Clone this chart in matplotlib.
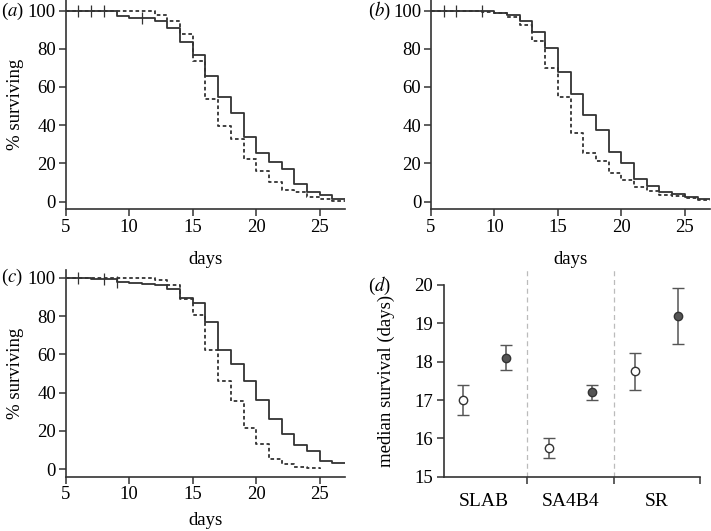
import matplotlib.pyplot as plt
import numpy as np

plt.rcParams['font.family'] = ['Liberation Serif', 'DejaVu Serif']
plt.rcParams['mathtext.fontset'] = 'stix'
plt.rcParams['font.size'] = 13

# days at which the step curves change (interval [d, d+1))
days = np.arange(5, 28)

# panel (a)
surv_a_solid = [100, 100, 100, 100, 97, 96, 96, 94.5, 91, 83.5, 76.5, 65.5,
                54.5, 46.5, 34, 25.5, 20.5, 17, 9, 5, 3.5, 1.5, 1.5]
surv_a_dash = [100, 100, 100, 100, 99.5, 99.5, 99.5, 97.5, 94.5, 87.5, 73.5, 53.5,
               39.5, 33, 22.5, 16, 10, 6, 5, 2.5, 1.5, 0.5, 0.5]
cens_a = [6, 7, 8, 11]

# panel (b)
surv_b_solid = [100, 100, 100, 100, 100, 98.5, 97.5, 94.5, 88.5, 80.5, 68, 56.5,
                45.5, 37.5, 26, 20, 12, 8, 5, 3.8, 2.3, 1.4, 1.4]
surv_b_dash = [100, 100, 100, 100, 99, 98.5, 96.5, 92.5, 84, 70, 54.5, 36,
               25.5, 21, 15, 11.5, 7.5, 5.5, 3.7, 3, 2, 1, 1]
cens_b = [6, 7, 9]

# panel (c)
surv_c_solid = [100, 100, 99.5, 99.5, 98, 97.5, 97, 96, 94, 89.5, 87, 77,
                62, 55, 46, 36, 26, 18.5, 12.5, 9.5, 4, 3, 3]
days_c_dash = np.arange(5, 26)
surv_c_dash = [100, 100, 100, 100, 100, 100, 100, 99, 96, 89, 80.5, 62,
               46, 35.5, 21.5, 13, 5, 2.5, 1, 0.5, 0]
cens_c = [6, 8, 9]

# panel (d)
strains = ['SLAB', 'SA4B4', 'SR']
med_open = [17.0, 15.75, 17.75]
lo_open = [16.6, 15.5, 17.27]
hi_open = [17.4, 16.0, 18.22]
med_fill = [18.1, 17.2, 19.2]
lo_fill = [17.77, 17.0, 18.47]
hi_fill = [18.43, 17.4, 19.93]

line_col = '#333333'
W, H = 711, 531
fig = plt.figure(figsize=(W / 100, H / 100), dpi=100)


def km_panel(rect, solid, dash_x, dash, cens, ylab, ytop, xpad):
    ax = fig.add_axes(rect)
    ax.step(days, solid, where='post', color=line_col, lw=1.3)
    ax.step(dash_x, dash, where='post', color=line_col, lw=1.3,
            linestyle=(0, (2, 1.5)))
    # censoring marks
    cy = [solid[list(days).index(c)] for c in cens]
    ax.plot(cens, cy, linestyle='none', marker='|', markersize=8,
            color=line_col, mew=0.9)
    ax.set_xlim(5, 27)
    ax.set_ylim(-4, ytop)
    ax.set_xticks([5, 10, 15, 20, 25])
    ax.set_yticks([0, 20, 40, 60, 80, 100])
    for s in ['top', 'right']:
        ax.spines[s].set_visible(False)
    for s in ['left', 'bottom']:
        ax.spines[s].set_color(line_col)
        ax.spines[s].set_linewidth(1.2)
    ax.tick_params(direction='out', length=5, width=1.1, color=line_col,
                   labelsize=13.5, pad=2)
    ax.set_xlabel('days', fontsize=13.5, labelpad=xpad)
    if ylab:
        ax.set_ylabel('% surviving', fontsize=13.5, labelpad=3)
    return ax


km_panel([0.0924, 0.606, 0.393, 0.394], surv_a_solid, days, surv_a_dash,
         cens_a, True, 105.5, 11)
km_panel([0.606, 0.606, 0.393, 0.394], surv_b_solid, days, surv_b_dash,
         cens_b, False, 105.5, 11)
km_panel([0.0924, 0.1023, 0.393, 0.389], surv_c_solid, days_c_dash, surv_c_dash,
         cens_c, True, 104, 6)

# panel (d) - median survival
axd = fig.add_axes([0.625, 0.1023, 0.3595, 0.361])
xg = np.arange(len(strains))
err_open = [np.array(med_open) - np.array(lo_open), np.array(hi_open) - np.array(med_open)]
err_fill = [np.array(med_fill) - np.array(lo_fill), np.array(hi_fill) - np.array(med_fill)]
axd.errorbar(xg + 0.25, med_open, yerr=err_open, fmt='o', color='#555555',
             mfc='white', mec='#333333', ms=6, capsize=4, elinewidth=1.1,
             capthick=1.1, mew=1.0, zorder=3)
axd.errorbar(xg + 0.75, med_fill, yerr=err_fill, fmt='o', color='#555555',
             mfc='#555555', mec='#333333', ms=6, capsize=4, elinewidth=1.1,
             capthick=1.1, mew=1.0, zorder=3)
for b in [1, 2]:
    axd.axvline(b, ymin=0, ymax=1.094, color='#bbbbbb', lw=0.9,
                linestyle=(0, (4, 3)), clip_on=False)
axd.set_xlim(0.04, 3)
axd.set_ylim(15, 20)
axd.set_yticks([15, 16, 17, 18, 19, 20])
axd.set_xticks([1, 2, 3])
axd.set_xticklabels([])
axd.set_xticks(xg + 0.5, minor=True)
axd.set_xticklabels(strains, minor=True)
axd.tick_params(axis='x', which='minor', length=0, pad=12, labelsize=14)
axd.tick_params(which='major', direction='out', length=5, width=1.1,
                color=line_col, labelsize=13.5, pad=3)
for s in ['top', 'right']:
    axd.spines[s].set_visible(False)
for s in ['left', 'bottom']:
    axd.spines[s].set_color(line_col)
    axd.spines[s].set_linewidth(1.2)
axd.set_ylabel('median survival (days)', fontsize=13.5, labelpad=14)

# panel letters, placed in figure pixels
for lab, px, py in [('a', 1, 11), ('b', 368, 11), ('c', 1, 277), ('d', 368, 286)]:
    fig.text(px / W, 1 - py / H, r'($\mathit{' + lab + '}$)', fontsize=13.5,
             va='center', ha='left')

fig.savefig('out.png', dpi=100)
